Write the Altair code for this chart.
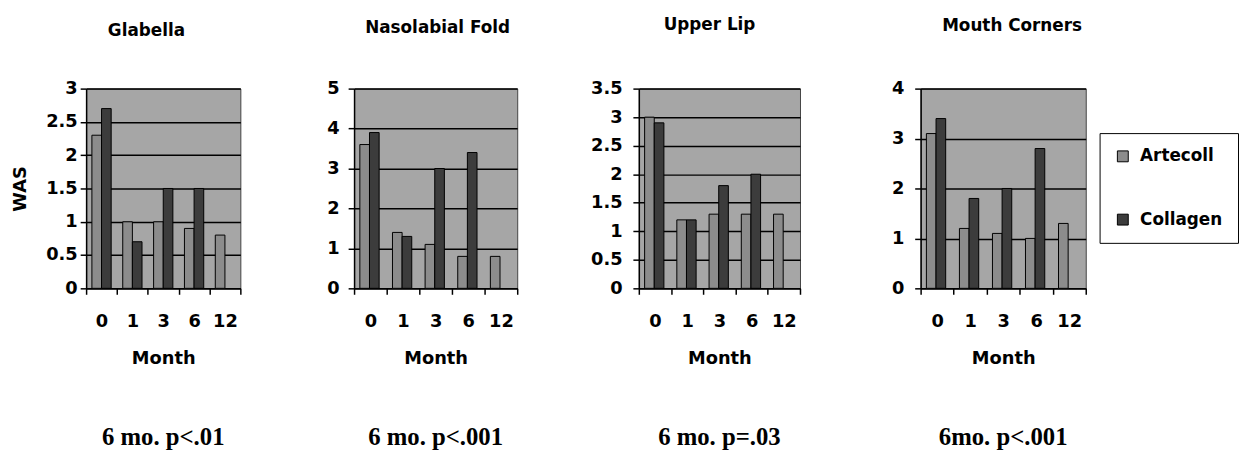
import altair as alt
import pandas as pd

months = ["0", "1", "3", "6", "12"]
series = ["Artecoll", "Collagen"]
regions = ["Glabella", "Nasolabial Fold", "Upper Lip", "Mouth Corners"]

artecoll_glabella = [2.3, 1.0, 1.0, 0.9, 0.8]
collagen_glabella = [2.7, 0.7, 1.5, 1.5, None]
artecoll_nasolabial = [3.6, 1.4, 1.1, 0.8, 0.8]
collagen_nasolabial = [3.9, 1.3, 3.0, 3.4, None]
artecoll_upperlip = [3.0, 1.2, 1.3, 1.3, 1.3]
collagen_upperlip = [2.9, 1.2, 1.8, 2.0, None]
artecoll_mouth = [3.1, 1.2, 1.1, 1.0, 1.3]
collagen_mouth = [3.4, 1.8, 2.0, 2.8, None]

p_texts = ["6 mo. p<.01", "6 mo. p<.001", "6 mo. p=.03", "6mo. p<.001"]
y_max = [3, 5, 3.5, 4]
y_ticks = [
    [0, 0.5, 1, 1.5, 2, 2.5, 3],
    [0, 1, 2, 3, 4, 5],
    [0, 0.5, 1, 1.5, 2, 2.5, 3, 3.5],
    [0, 1, 2, 3, 4],
]

values = [
    (artecoll_glabella, collagen_glabella),
    (artecoll_nasolabial, collagen_nasolabial),
    (artecoll_upperlip, collagen_upperlip),
    (artecoll_mouth, collagen_mouth),
]

widths = [156, 165, 163, 167]
H = 202
extents = [42, 52, 60, 59]
label_pads = [3, 9, 11, 11]
title_offsets = [40, 43, 46, 45]
title_dx = [-17, 2, -10, 9]

colors = ["#8c8c8c", "#3c3c3c"]


def make_df(a, c):
    rows = []
    for m, va, vc in zip(months, a, c):
        if va is not None:
            rows.append({"Month": m, "Series": "Artecoll", "WAS": va})
        if vc is not None:
            rows.append({"Month": m, "Series": "Collagen", "WAS": vc})
    return pd.DataFrame(rows)


panels = []
for i in range(4):
    df = make_df(*values[i])
    w = widths[i]
    if i == 3:
        legend = alt.Legend(
            title=None, orient="none", legendX=181, legendY=45,
            symbolType="square", symbolSize=121, symbolStrokeColor="black",
            symbolStrokeWidth=1, labelFontSize=17, labelFont="DejaVu Sans",
            labelFontWeight="bold", labelColor="black", padding=15,
            rowPadding=46, strokeColor="black", fillColor="white",
            labelOffset=9,
        )
    else:
        legend = None
    yaxis = alt.Axis(
        values=y_ticks[i], format="~g", title="WAS" if i == 0 else None,
        labelPadding=label_pads[i], minExtent=extents[i], maxExtent=extents[i],
        titlePadding=15, titleFontSize=18,
    )
    bars = alt.Chart(df).mark_bar(stroke="black", strokeWidth=1).encode(
        x=alt.X(
            "Month:N", sort=months,
            scale=alt.Scale(paddingInner=0, paddingOuter=0),
            axis=alt.Axis(title="Month", labelAngle=0, tickBand="extent",
                          labelPadding=19, titlePadding=19, grid=False),
        ),
        xOffset=alt.XOffset(
            "Series:N", sort=series,
            scale=alt.Scale(paddingInner=0, paddingOuter=0.6),
        ),
        y=alt.Y("WAS:Q", scale=alt.Scale(domain=[0, y_max[i]], nice=False),
                axis=yaxis),
        color=alt.Color("Series:N", scale=alt.Scale(domain=series, range=colors),
                        legend=legend),
    )
    ann = alt.Chart(pd.DataFrame({"label": [p_texts[i]]})).mark_text(
        font="Liberation Serif", fontSize=25, fontWeight="bold",
        align="center", baseline="middle", color="black",
    ).encode(
        x=alt.value(w / 2), y=alt.value(H + 150), text="label:N"
    )
    panel = alt.layer(bars, ann).properties(
        width=w, height=H,
        title=alt.TitleParams(regions[i], offset=title_offsets[i], dx=title_dx[i]),
    )
    panels.append(panel)

chart = alt.hconcat(*panels, spacing=60).resolve_scale(
    color="independent"
).properties(
    padding={"left": 3, "top": 5, "right": 0, "bottom": 0}
).configure(
    background="white",
).configure_view(
    fill="#a6a6a6", stroke="#444444", strokeWidth=1,
).configure_title(
    font="DejaVu Sans", fontSize=17, fontWeight="bold", color="black",
    anchor="middle",
).configure_axis(
    labelFont="DejaVu Sans", labelFontSize=18, labelFontWeight="bold",
    labelColor="black", titleFont="DejaVu Sans", titleFontSize=18,
    titleFontWeight="bold", titleColor="black", domainColor="black",
    domainWidth=1.5, tickColor="black", tickSize=6, tickWidth=1.5,
    gridColor="black", gridWidth=1.5,
)

chart.save("out.html", embed_options={"renderer": "svg", "actions": False})
